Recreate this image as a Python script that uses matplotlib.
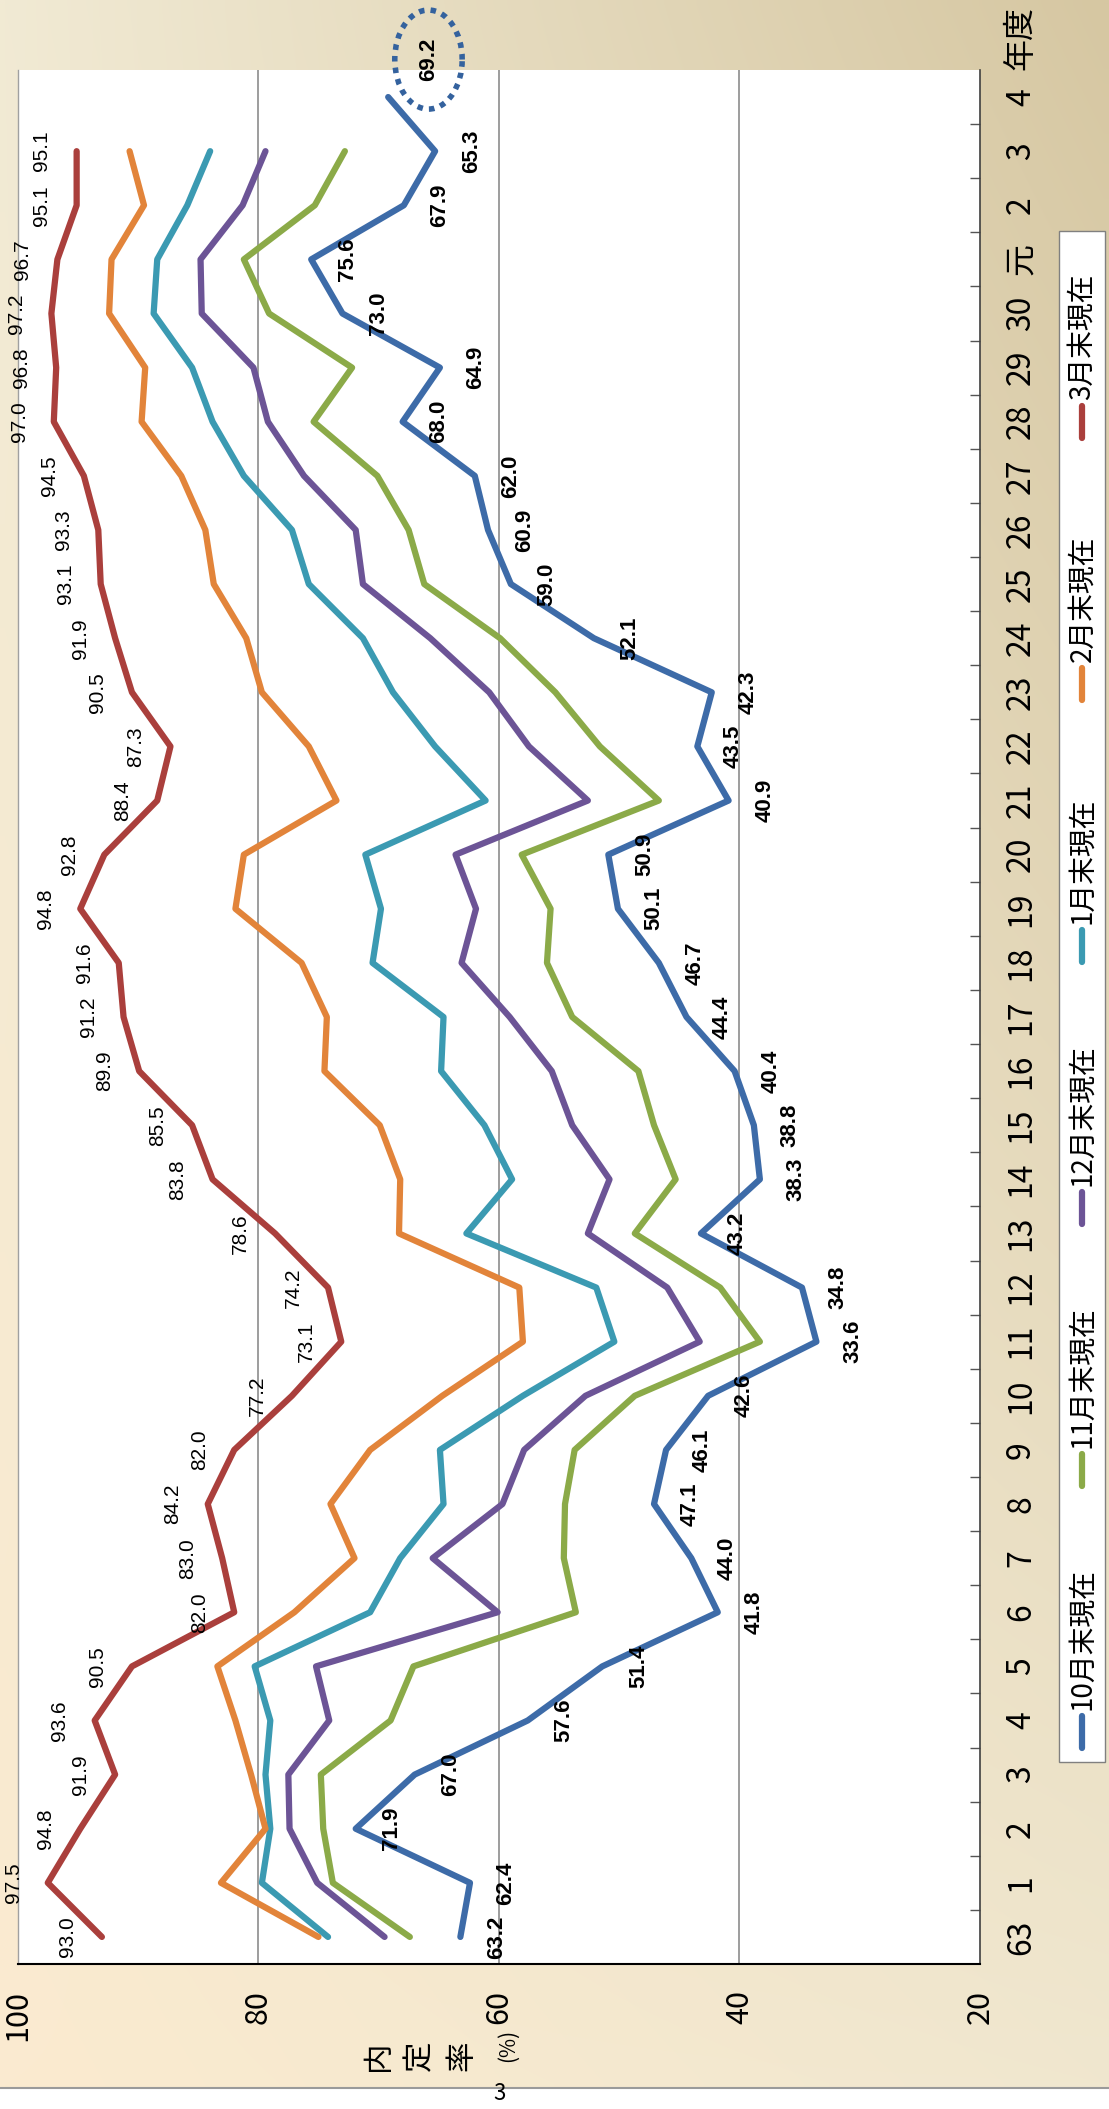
"""Rotated line chart: 内定率 by month-end, 昭和63〜令和4年度 (1109x2109 PNG)."""
import matplotlib
matplotlib.use("Agg")
import matplotlib.pyplot as plt
import numpy as np
from matplotlib.patches import Rectangle
from matplotlib.lines import Line2D

plt.rcParams['font.family'] = ['Noto Sans CJK JP', 'DejaVu Sans']

W, H = 1109, 2109

# ---- data -------------------------------------------------------------
years = ["63"] + [str(y) for y in range(1, 31)] + ["元", "2", "3", "4"]

oct_ = [63.2, 62.4, 71.9, 67.0, 57.6, 51.4, 41.8, 44.0, 47.1, 46.1, 42.6, 33.6,
        34.8, 43.2, 38.3, 38.8, 40.4, 44.4, 46.7, 50.1, 50.9, 40.9, 43.5, 42.3,
        52.1, 59.0, 60.9, 62.0, 68.0, 64.9, 73.0, 75.6, 67.9, 65.3, 69.2]
nov = [67.4, 73.8, 74.6, 74.8, 69.0, 67.1, 53.6, 54.6, 54.5, 53.7, 48.7, 38.3,
       41.6, 48.7, 45.3, 47.1, 48.4, 53.9, 56.0, 55.7, 58.1, 46.7, 51.6, 55.3,
       59.9, 66.2, 67.5, 70.1, 75.4, 72.2, 79.1, 81.2, 75.3, 72.8]
dec = [69.5, 75.1, 77.4, 77.5, 74.1, 75.2, 60.1, 65.5, 59.7, 57.9, 52.8, 43.3,
       46.0, 52.6, 50.8, 53.9, 55.6, 59.1, 63.1, 61.9, 63.6, 52.6, 57.5, 60.8,
       65.7, 71.3, 71.9, 76.2, 79.2, 80.4, 84.7, 84.8, 81.3, 79.4]
jan = [74.2, 79.7, 79.0, 79.4, 79.0, 80.3, 70.7, 68.2, 64.6, 64.9, 58.0, 50.4,
       51.9, 62.7, 58.9, 61.2, 64.8, 64.6, 70.5, 69.8, 71.1, 61.1, 65.3, 68.8,
       71.3, 75.8, 77.2, 81.2, 83.8, 85.5, 88.7, 88.4, 85.9, 84.0]
feb = [75.0, 83.1, 79.4, 80.6, 81.9, 83.4, 77.0, 72.0, 74.0, 70.7, 64.7, 58.0,
       58.3, 68.3, 68.2, 69.9, 74.5, 74.3, 76.4, 81.9, 81.2, 73.5, 75.8, 79.7,
       81.0, 83.7, 84.4, 86.4, 89.7, 89.4, 92.4, 92.2, 89.5, 90.7]
mar = [93.0, 97.5, 94.8, 91.9, 93.6, 90.5, 82.0, 83.0, 84.2, 82.0, 77.2, 73.1,
       74.2, 78.6, 83.8, 85.5, 89.9, 91.2, 91.6, 94.8, 92.8, 88.4, 87.3, 90.5,
       91.9, 93.1, 93.3, 94.5, 97.0, 96.8, 97.2, 96.7, 95.1, 95.1]

names = ["10月末現在", "11月末現在", "12月末現在", "1月末現在", "2月末現在", "3月末現在"]
colors = ["#3D6BA8", "#8BAA48", "#6C5496", "#3B9AB2", "#E2843A", "#AA3F3C"]
values = [oct_, nov, dec, jan, feb, mar]

value_ticks = [100, 80, 60, 40, 20]


def fx(px):
    return px / W


def fy(py):
    return 1 - py / H


fig = plt.figure(figsize=(W / 100, H / 100), dpi=100)
fig.patch.set_facecolor("white")

# ---- background gradient ---------------------------------------------
bg = fig.add_axes([0, fy(2088), 1, 1 - fy(2088)])
bg.set_zorder(0)
TL = np.array([241, 234, 212]) / 255
TR = np.array([214, 199, 162]) / 255
BL = np.array([251, 235, 208]) / 255
BR = np.array([240, 231, 207]) / 255
u = np.linspace(0, 1, 120)[None, :, None]
v = np.linspace(0, 1, 240)[:, None, None]
img = (1 - u) * (1 - v) * TL + u * (1 - v) * TR + (1 - u) * v * BL + u * v * BR
bg.imshow(img, aspect="auto", extent=[0, 1, 0, 1], interpolation="bilinear")
bg.axis("off")

fig.add_artist(Line2D([0, 1], [fy(2088)] * 2, color="#9a9a9a", lw=1.5, zorder=5))
fig.text(fx(499), fy(2094), "3", ha="center", va="center", fontsize=16, zorder=5)

# ---- main axes (rotated layout: values run right->left, years bottom->top)
ax = fig.add_axes([fx(17.7), fy(1964), fx(980) - fx(17.7), fy(70) - fy(1964)])
ax.set_zorder(1)
ax.set_facecolor("white")
ax.set_xlim(100, 20)
ax.set_ylim(-0.5, len(years) - 0.5)

for g in [80, 60, 40]:
    ax.axvline(g, color="#8c8c8c", lw=1.2, zorder=1)

for name, vals, c in zip(names, values, colors):
    ax.plot(vals, np.arange(len(vals)), color=c, lw=4.5, zorder=3,
            solid_joinstyle="round", solid_capstyle="round")

# data labels: 3月 (left of line), 10月 (right of line, bold)
for i, val in enumerate(mar):
    t = ax.annotate(f"{val:.1f}", (val, i), xytext=(-25, 0), textcoords="offset points",
                    rotation=90, ha="center", va="center", fontsize=15,
                    family="Liberation Sans", zorder=4)
    t.set_clip_on(True)

for i, val in enumerate(oct_[:-1]):
    ax.annotate(f"{val:.1f}", (val, i), xytext=(26, 0), textcoords="offset points",
                rotation=90, ha="center", va="center", fontsize=16,
                fontweight="bold", family="Liberation Sans", zorder=4)

# latest value highlighted in a dotted ellipse
ax.annotate(f"{oct_[-1]:.1f}", (oct_[-1], len(oct_) - 1), xytext=(29, 27),
            textcoords="offset points", rotation=90, ha="center", va="center",
            fontsize=16, fontweight="bold", family="Liberation Sans", zorder=4,
            annotation_clip=False,
            bbox=dict(boxstyle="ellipse,pad=0.6", facecolor="none",
                      edgecolor="#34629E", lw=4, linestyle=(0, (1, 1.1))))

# spines
ax.spines["top"].set_visible(False)
ax.spines["left"].set_color("#a0a0a0")
ax.spines["left"].set_linewidth(1)
ax.spines["right"].set_color("#404040")
ax.spines["right"].set_linewidth(1.2)
ax.spines["bottom"].set_color("black")
ax.spines["bottom"].set_linewidth(1.5)

# value axis (original y-axis) along the bottom
ax.set_xticks(value_ticks)
ax.set_xticklabels([str(t) for t in value_ticks], rotation=90)
ax.tick_params(axis="x", length=0, pad=19, labelsize=22)

# category axis (years) along the right
ax.yaxis.tick_right()
ax.set_yticks(np.arange(len(years)))
ax.set_yticklabels(years, rotation=90, va="center")
ax.set_yticks(np.arange(0.5, len(years) - 1, 1), minor=True)
ax.tick_params(axis="y", which="major", length=0, pad=18, labelsize=23)
ax.tick_params(axis="y", which="minor", direction="in", length=7, width=1,
               color="#555555", right=True, left=False)

fig.text(fx(1020), fy(38), "年度", rotation=90, ha="center", va="center", fontsize=23)

# axis title: stacked characters, each turned
for k, ch in enumerate("内定率"):
    fig.text(fx(378 + k * 42), fy(2056), ch, rotation=90, ha="center", va="center",
             fontsize=22)
fig.text(fx(508), fy(2045), "(%)", rotation=90, ha="center", va="center", fontsize=15)

# ---- legend (drawn by hand, rotated) ---------------------------------
fig.add_artist(Rectangle((fx(1059), fy(1762)), fx(1105) - fx(1059), fy(231) - fy(1762),
                         transform=fig.transFigure, facecolor="white",
                         edgecolor="#808080", lw=1, zorder=6))
for k, (name, c) in enumerate(zip(names, colors)):
    y0 = 1748 - k * 262
    fig.add_artist(Line2D([fx(1082)] * 2, [fy(y0), fy(y0 - 32)], color=c, lw=4.5,
                          solid_capstyle="round", zorder=7))
    fig.text(fx(1082), fy(y0 - 38), name, rotation=90, ha="center", va="bottom",
             fontsize=20, zorder=7)

fig.savefig("out.png", dpi=100, facecolor="white")
